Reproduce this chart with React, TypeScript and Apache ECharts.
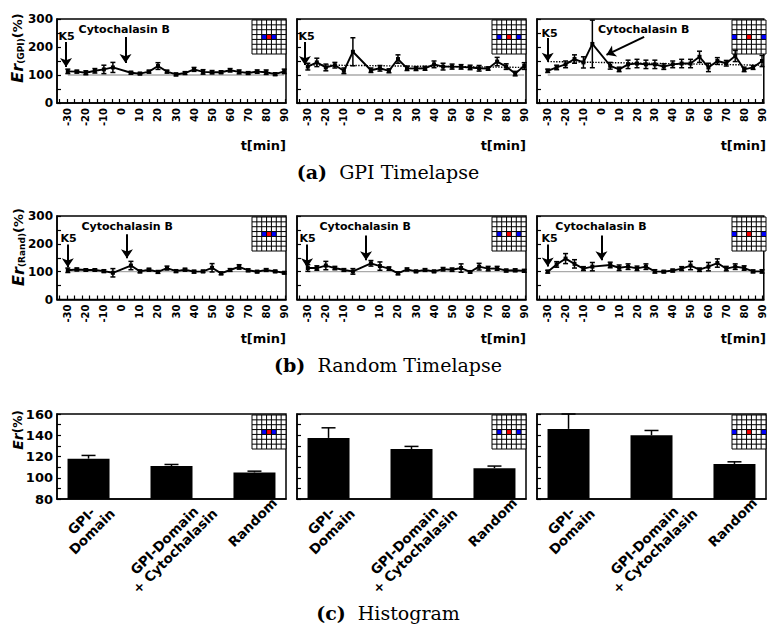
import React, { useEffect, useRef } from "react";
import * as echarts from "echarts";

// ---------------- data ----------------
const TIMES = [-30, -25, -20, -15, -10, -5, 5, 10, 15, 20, 25, 30, 35, 40, 45, 50, 55, 60, 65, 70, 75, 80, 85, 90];
const TIME_TICK_LABELS = [-30, -20, -10, 0, 10, 20, 30, 40, 50, 60, 70, 80, 90];
const ER_TICK_LABELS = [0, 100, 200, 300];
const HIST_TICK_LABELS = [80, 100, 120, 140, 160];
const BASELINE = 100;
const BASELINE_SPAN = [-30, 90];

// (a) GPI timelapse
const gpiA1Values = [113, 112, 108, 115, 120, 127, 108, 105, 112, 132, 112, 102, 107, 120, 111, 110, 110, 117, 111, 107, 112, 110, 103, 113];
const gpiA1Errors = [8, 5, 7, 8, 15, 18, 5, 4, 5, 12, 5, 5, 5, 7, 8, 6, 5, 6, 7, 5, 6, 8, 5, 8];
const gpiA2Values = [130, 145, 127, 135, 115, 183, 117, 124, 115, 157, 124, 123, 124, 138, 130, 130, 129, 127, 124, 123, 148, 130, 105, 132];
const gpiA2Errors = [12, 15, 12, 10, 10, 50, 8, 10, 7, 15, 8, 7, 7, 12, 12, 9, 8, 8, 10, 6, 15, 10, 8, 12];
const gpiA2Trend = [136, 127];
const gpiA3Values = [115, 127, 138, 157, 145, 211, 133, 120, 138, 141, 138, 138, 130, 138, 141, 141, 165, 127, 150, 142, 168, 120, 127, 150];
const gpiA3Errors = [6, 8, 12, 15, 20, 85, 12, 8, 15, 15, 15, 15, 10, 12, 15, 15, 20, 15, 12, 10, 20, 8, 7, 20];
const gpiA3Trend = [148, 135];

// (b) Random timelapse
const randB1Values = [105, 108, 106, 106, 102, 96, 122, 101, 107, 99, 113, 102, 107, 100, 101, 114, 94, 106, 117, 105, 100, 106, 101, 96];
const randB1Errors = [8, 5, 4, 4, 5, 15, 15, 5, 5, 5, 7, 5, 5, 5, 4, 15, 5, 5, 8, 5, 4, 5, 4, 4];
const randB2Values = [113, 113, 122, 113, 106, 101, 130, 120, 111, 94, 108, 101, 106, 101, 109, 107, 113, 99, 118, 111, 112, 104, 105, 103];
const randB2Errors = [12, 8, 15, 6, 5, 10, 10, 15, 6, 5, 5, 4, 5, 4, 6, 6, 15, 4, 12, 8, 7, 5, 5, 5];
const randB3Values = [100, 126, 147, 128, 111, 118, 124, 114, 118, 112, 118, 101, 100, 104, 111, 122, 107, 118, 131, 111, 118, 113, 101, 101];
const randB3Errors = [5, 10, 18, 15, 7, 15, 10, 10, 10, 8, 10, 6, 4, 5, 7, 15, 6, 15, 15, 8, 10, 8, 5, 6];

// (c) Histogram
const HIST_CATEGORIES = ["GPI-\nDomain", "GPI-Domain\n+ Cytochalasin", "Random"];
const histC1Values = [118, 111, 105];
const histC1Errors = [3, 1.5, 1.2];
const histC2Values = [137.5, 127, 109];
const histC2Errors = [9.5, 2.5, 2];
const histC3Values = [146, 140, 113];
const histC3Errors = [14, 4.5, 2];

// inset: column index of blue, red, blue cells in a 7x7 grid
const INSET_CELLS = [
  [2, 3, 4],
  [1, 3, 5],
  [0, 3, 6],
];

// annotations in data coordinates
const ANNOTATIONS = [
  { texts: [["K5", -35.4, 236], ["Cytochalasin B", -24.3, 264]], arrows: [[-31, 218, -31, 129], [2, 236, 2, 143]] },
  { texts: [["K5", -35.4, 236]], arrows: [[-31.6, 218, -31.6, 136]] },
  { texts: [["K5", -33.8, 250], ["Cytochalasin B", -2.1, 264]], arrows: [[-30, 232, -30, 147], [24, 236, 2.9, 172]] },
  { texts: [["K5", -34.3, 220], ["Cytochalasin B", -22.7, 263]], arrows: [[-30, 198, -30, 116], [2.8, 234, 2.8, 148]] },
  { texts: [["K5", -34.9, 220], ["Cytochalasin B", -23.8, 263]], arrows: [[-30.4, 198, -30.4, 116], [2.3, 230, 2.3, 141]] },
  { texts: [["K5", -33.8, 220], ["Cytochalasin B", -26, 263]], arrows: [[-30, 198, -30, 119], [0.1, 230, 0.1, 141]] },
];

const TIMELAPSE = [
  { values: gpiA1Values, errors: gpiA1Errors, trend: null as number[] | null },
  { values: gpiA2Values, errors: gpiA2Errors, trend: gpiA2Trend },
  { values: gpiA3Values, errors: gpiA3Errors, trend: gpiA3Trend },
  { values: randB1Values, errors: randB1Errors, trend: null },
  { values: randB2Values, errors: randB2Errors, trend: null },
  { values: randB3Values, errors: randB3Errors, trend: null },
];
const HISTS = [
  { values: histC1Values, errors: histC1Errors },
  { values: histC2Values, errors: histC2Errors },
  { values: histC3Values, errors: histC3Errors },
];

// ---------------- layout ----------------
const COL_LEFT = [57, 297, 537];
const COL_WIDTH = 229;
const ROW_TOP = [19, 216, 414];
const ROW_HEIGHT = [84, 83.5, 85];
const T_MIN = -36;
const T_MAX = 91;
const TICK_START = -34.7;
const TICK_STEP = 4.17;
const TIME_TICKS: number[] = [];
for (let t = TICK_START; t <= T_MAX; t += TICK_STEP) TIME_TICKS.push(t);
const SANS = "DejaVu Sans";
const SERIF = "DejaVu Serif";

function errorRenderer(capW: number, upperOnly: boolean) {
  return (params: any, api: any) => {
    const x = api.value(0);
    const y = api.value(1);
    const e = api.value(2);
    const top = api.coord([x, y + e]);
    const bot = api.coord([x, upperOnly ? y : y - e]);
    const st = { stroke: "#000", lineWidth: 1.5 };
    const children: any[] = [
      { type: "line", shape: { x1: top[0], y1: top[1], x2: bot[0], y2: bot[1] }, style: st },
      { type: "line", shape: { x1: top[0] - capW / 2, y1: top[1], x2: top[0] + capW / 2, y2: top[1] }, style: st },
    ];
    if (!upperOnly)
      children.push({ type: "line", shape: { x1: bot[0] - capW / 2, y1: bot[1], x2: bot[0] + capW / 2, y2: bot[1] }, style: st });
    return { type: "group", children };
  };
}

function insetGraphic(r: number, c: number) {
  const size = 34;
  const cell = size / 7;
  const x0 = COL_LEFT[c] + COL_WIDTH - size;
  const y0 = ROW_TOP[r] + 1;
  const children: any[] = [
    { type: "rect", shape: { x: 0, y: 0, width: size, height: size }, style: { fill: "#fff", stroke: "#000", lineWidth: 1 } },
  ];
  const cols = INSET_CELLS[c];
  cols.forEach((ci, k) => {
    children.push({
      type: "rect",
      shape: { x: ci * cell, y: 3 * cell, width: cell, height: cell },
      style: { fill: k === 1 ? "#ff0000" : "#0000ff" },
    });
  });
  for (let i = 1; i < 7; i++) {
    children.push({ type: "line", shape: { x1: i * cell, y1: 0, x2: i * cell, y2: size }, style: { stroke: "#000", lineWidth: 1 } });
    children.push({ type: "line", shape: { x1: 0, y1: i * cell, x2: size, y2: i * cell }, style: { stroke: "#000", lineWidth: 1 } });
  }
  return { type: "group", x: x0, y: y0, z: 100, silent: true, children };
}

export default function App() {
  const ref = useRef<HTMLDivElement>(null);
  useEffect(() => {
    const el = ref.current!;
    const chart = echarts.init(el, null, { renderer: "svg" });

    const grids: any[] = [];
    const xAxes: any[] = [];
    const yAxes: any[] = [];
    const series: any[] = [];
    const axisLine = { show: true, onZero: false, lineStyle: { color: "#000", width: 1.5 } };

    for (let r = 0; r < 3; r++) {
      for (let c = 0; c < 3; c++) {
        grids.push({
          left: COL_LEFT[c],
          top: ROW_TOP[r],
          width: COL_WIDTH,
          height: ROW_HEIGHT[r],
          show: true,
          borderColor: "#000",
          borderWidth: 1.5,
          backgroundColor: "transparent",
        });
      }
    }

    // timelapse panels
    TIMELAPSE.forEach((p, g) => {
      const col = g % 3;
      xAxes.push({
        gridIndex: g,
        type: "value",
        min: T_MIN,
        max: T_MAX,
        axisLine,
        splitLine: { show: false },
        axisTick: { show: true, inside: true, length: 4, customValues: TIME_TICKS, lineStyle: { color: "#000", width: 1.2 } },
        axisLabel: {
          show: true,
          customValues: TIME_TICK_LABELS,
          rotate: 90,
          margin: 5,
          color: "#000",
          fontFamily: SANS,
          fontWeight: "bold",
          fontSize: 10,
        },
      });
      yAxes.push({
        gridIndex: g,
        type: "value",
        min: 0,
        max: 300,
        interval: 50,
        axisLine,
        splitLine: { show: false },
        axisTick: { show: true, inside: true, length: 4, lineStyle: { color: "#000", width: 1.2 } },
        axisLabel: {
          show: col === 0,
          margin: 4,
          color: "#000",
          fontFamily: SANS,
          fontWeight: "bold",
          fontSize: 12,
          formatter: (v: number) => (ER_TICK_LABELS.indexOf(v) >= 0 ? String(v) : ""),
        },
      });
      series.push({
        type: "line",
        xAxisIndex: g,
        yAxisIndex: g,
        data: BASELINE_SPAN.map((t) => [t, BASELINE]),
        symbol: "none",
        silent: true,
        lineStyle: { color: "#aaaaaa", width: 1.3 },
        z: 1,
      });
      if (p.trend) {
        const tr = p.trend;
        series.push({
          type: "line",
          xAxisIndex: g,
          yAxisIndex: g,
          data: BASELINE_SPAN.map((t, i) => [t, tr[i]]),
          symbol: "none",
          silent: true,
          lineStyle: { color: "#000", width: 1.4, type: "dotted" },
          z: 2,
        });
      }
      series.push({
        type: "custom",
        xAxisIndex: g,
        yAxisIndex: g,
        data: TIMES.map((t, i) => [t, p.values[i], p.errors[i]]),
        encode: { x: 0, y: 1 },
        renderItem: errorRenderer(5, false),
        silent: true,
        z: 3,
      });
      const ann = ANNOTATIONS[g];
      series.push({
        type: "line",
        xAxisIndex: g,
        yAxisIndex: g,
        data: TIMES.map((t, i) => [t, p.values[i]]),
        symbol: "rect",
        symbolSize: 4,
        itemStyle: { color: "#000" },
        lineStyle: { color: "#000", width: 1.9 },
        silent: true,
        z: 4,
        markLine: {
          silent: true,
          symbol: ["none", "arrow"],
          symbolSize: 9,
          lineStyle: { color: "#000", width: 2, type: "solid" },
          label: { show: false },
          data: ann.arrows.map((a) => [{ coord: [a[0], a[1]] }, { coord: [a[2], a[3]] }]),
        },
        markPoint: {
          silent: true,
          symbol: "circle",
          symbolSize: 1,
          itemStyle: { color: "rgba(0,0,0,0)" },
          label: {
            show: true,
            position: "right",
            distance: 0,
            formatter: "{b}",
            color: "#000",
            fontFamily: SANS,
            fontWeight: "bold",
            fontSize: 11,
          },
          data: ann.texts.map((t) => ({ name: t[0], coord: [t[1], t[2]] })),
        },
      });
    });

    // histogram panels
    HISTS.forEach((h, k) => {
      const g = 6 + k;
      xAxes.push({
        gridIndex: g,
        type: "value",
        min: -0.38,
        max: 2.38,
        axisLine,
        splitLine: { show: false },
        axisTick: { show: false },
        axisLabel: { show: false },
      });
      yAxes.push({
        gridIndex: g,
        type: "value",
        min: 80,
        max: 160,
        interval: 10,
        axisLine,
        splitLine: { show: false },
        axisTick: { show: true, inside: true, length: 4, lineStyle: { color: "#000", width: 1.2 } },
        axisLabel: {
          show: k === 0,
          margin: 4,
          color: "#000",
          fontFamily: SANS,
          fontWeight: "bold",
          fontSize: 13,
          formatter: (v: number) => (HIST_TICK_LABELS.indexOf(v) >= 0 ? String(v) : ""),
        },
      });
      series.push({
        type: "bar",
        xAxisIndex: g,
        yAxisIndex: g,
        data: h.values.map((v, i) => [i, v]),
        barWidth: 42,
        itemStyle: { color: "#000" },
        silent: true,
        z: 2,
      });
      series.push({
        type: "custom",
        xAxisIndex: g,
        yAxisIndex: g,
        data: h.values.map((v, i) => [i, v, h.errors[i]]),
        encode: { x: 0, y: 1 },
        renderItem: errorRenderer(14, true),
        silent: true,
        z: 3,
      });
    });

    const graphic: any[] = [];
    for (let r = 0; r < 3; r++) for (let c = 0; c < 3; c++) graphic.push(insetGraphic(r, c));

    const yName = (x: number, y: number, sub: string, big: number, pct: number) => ({
      type: "text",
      x,
      y,
      rotation: Math.PI / 2,
      silent: true,
      style: {
        text: sub ? `{e|Er}{s|(${sub})}{p|(%)}` : `{e|Er}{p|(%)}`,
        align: "center",
        verticalAlign: "middle",
        fill: "#000",
        rich: {
          e: { fontFamily: SANS, fontWeight: "bold", fontStyle: "italic", fontSize: big, fill: "#000" },
          s: { fontFamily: SANS, fontWeight: "bold", fontSize: 9, fill: "#000", verticalAlign: "bottom" },
          p: { fontFamily: SANS, fontWeight: "bold", fontSize: pct, fill: "#000" },
        },
      },
    });
    graphic.push(yName(17, 48, "GPI", 16, 13));
    graphic.push(yName(18, 247, "Rand", 16, 13));
    graphic.push(yName(18, 430, "", 14, 12));

    const tName = (x: number, y: number) => ({
      type: "text",
      x,
      y,
      silent: true,
      style: { text: "t[min]", align: "right", verticalAlign: "middle", fill: "#000", fontFamily: SANS, fontWeight: "bold", fontSize: 13 },
    });
    for (let c = 0; c < 3; c++) {
      graphic.push(tName(COL_LEFT[c] + COL_WIDTH, 145));
      graphic.push(tName(COL_LEFT[c] + COL_WIDTH, 338));
    }

    const caption = (y: number, tag: string, text: string) => ({
      type: "text",
      x: 388,
      y,
      silent: true,
      style: {
        text: `{b|${tag}}  ${text}`,
        align: "center",
        verticalAlign: "middle",
        fill: "#000",
        fontFamily: SERIF,
        fontSize: 19,
        rich: { b: { fontFamily: SERIF, fontWeight: "bold", fontSize: 19, fill: "#000" } },
      },
    });
    graphic.push(caption(172, "(a)", "GPI Timelapse"));
    graphic.push(caption(365, "(b)", "Random Timelapse"));
    graphic.push(caption(613, "(c)", "Histogram"));

    chart.setOption({
      animation: false,
      backgroundColor: "#fff",
      grid: grids,
      xAxis: xAxes,
      yAxis: yAxes,
      series,
      graphic,
    });

    // rotated category labels for the histograms, centred under each bar
    const ctx = document.createElement("canvas").getContext("2d")!;
    const fs = 13.5;
    const lh = 15;
    ctx.font = `bold ${fs}px "${SANS}"`;
    const extra: any[] = [];
    HISTS.forEach((h, k) => {
      const g = 6 + k;
      const axisY = chart.convertToPixel({ yAxisIndex: g }, 80) as number;
      HIST_CATEGORIES.forEach((cat, i) => {
        const tickX = chart.convertToPixel({ xAxisIndex: g }, i) as number;
        const lines = cat.split("\n");
        const w = Math.max(...lines.map((l) => ctx.measureText(l).width));
        const hgt = lines.length * lh;
        const s = (w + hgt) * Math.SQRT1_2;
        extra.push({
          type: "text",
          x: tickX - 2,
          y: axisY + s / 2 - 4,
          rotation: Math.PI / 4,
          silent: true,
          style: {
            text: cat,
            align: "center",
            verticalAlign: "middle",
            fill: "#000",
            fontFamily: SANS,
            fontWeight: "bold",
            fontSize: fs,
            lineHeight: lh,
          },
        });
      });
    });
    chart.setOption({ graphic: [...graphic, ...extra] });

    return () => chart.dispose();
  }, []);
  return (
    <div
      ref={ref}
      style={{ position: "fixed", left: 0, top: 0, width: 767, height: 626, background: "#fff" }}
    />
  );
}
